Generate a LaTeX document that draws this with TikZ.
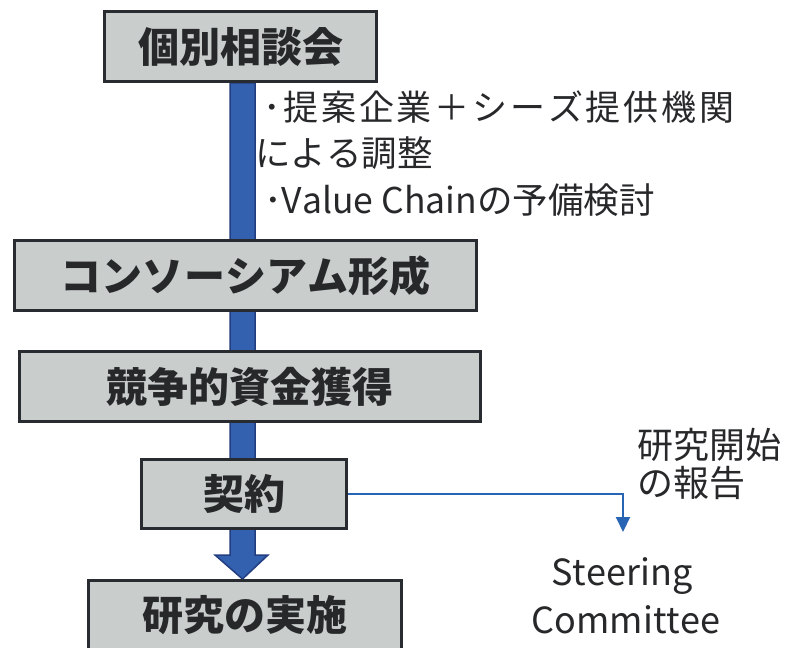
\documentclass[tikz,border=0pt]{standalone}
\usepackage{fontspec}
\setmainfont{Noto Sans CJK JP}[Kerning=Off]
\newfontfamily\bulfont{Noto Sans CJK JP}[Kerning=Off, LetterSpace=8]
\usetikzlibrary{arrows.meta,calc}
\definecolor{boxfill}{RGB}{201,205,204}
\definecolor{boxline}{RGB}{40,44,48}
\definecolor{textc}{RGB}{38,40,42}
\definecolor{barblue}{RGB}{52,96,176}
\definecolor{bardark}{RGB}{34,62,128}
\definecolor{lineblue}{RGB}{40,100,180}
\begin{document}
\begin{tikzpicture}[x=1bp,y=-1bp,
  box/.style={draw=boxline, line width=3bp, fill=boxfill, inner sep=0pt,
    text=textc, font=\fontsize{41bp}{41bp}\selectfont\bfseries},
  bul/.style={inner sep=0pt, text=textc, font=\bulfont\fontsize{35bp}{35bp}\selectfont},
  bultwo/.style={inner sep=0pt, text=textc, font=\fontsize{35.5bp}{35.5bp}\selectfont},
  note/.style={inner sep=0pt, text=textc, font=\fontsize{36bp}{36bp}\selectfont},
  sc/.style={inner sep=0pt, text=textc, font=\fontsize{36bp}{36bp}\selectfont},
  link/.style={draw=lineblue, line width=2bp, -{Triangle[width=14bp,length=15bp]}}]
\useasboundingbox (0,0) rectangle (787,648);
\clip (0,0) rectangle (787,648);
\fill[white] (0,0) rectangle (787,648);
% boxes (first pass, to name them)
\node[box, minimum width=272bp, minimum height=70bp] (b1) at (240.5,46.5) {個別相談会};
\node[box, minimum width=462bp, minimum height=70bp] (b2) at (245.5,275.5) {コンソーシアム形成};
\node[box, minimum width=461bp, minimum height=70bp] (b3) at (250,386.5) {競争的資金獲得};
\node[box, minimum width=205bp, minimum height=69bp] (b4) at (244,494) {契約};
\node[box, minimum width=313bp, minimum height=70bp] (b5) at (245,615.5) {研究の実施};
% big blue arrow
\coordinate (bl) at (230,0);
\coordinate (br) at (255,0);
\coordinate (hl) at (215,0);
\coordinate (hr) at (268,0);
\coordinate (hc) at (242.5,0);
\coordinate (hy) at (0,555);
\fill[barblue, draw=bardark, line width=1.5bp]
  (b1.south -| bl) -- (hy -| bl) -- (hy -| hl) -- (b5.north -| hc)
  -- (hy -| hr) -- (hy -| br) -- (b1.south -| br) -- cycle;
% boxes again on top of the bar
\node[box, minimum width=272bp, minimum height=70bp] at (b1) {個別相談会};
\node[box, minimum width=462bp, minimum height=70bp] at (b2) {コンソーシアム形成};
\node[box, minimum width=461bp, minimum height=70bp] at (b3) {競争的資金獲得};
\node[box, minimum width=205bp, minimum height=69bp] at (b4) {契約};
\node[box, minimum width=313bp, minimum height=70bp] at (b5) {研究の実施};
% bullet texts
\node[bul, anchor=base west] (t1) at (263,121) {･提案企業＋シーズ提供機関};
\node[bultwo, anchor=base west] (t2) at (255,167) {による調整};
\node[bultwo, anchor=base west] (t3) at (264,214) {･Value Chainの予備検討};
% report
\node[note, anchor=base west] (r1) at (637,458) {研究開始};
\node[note, anchor=base west] (r2) at (637,496) {の報告};
\node[sc, anchor=base] (s1) at (622,585) {Steering};
\node[sc, anchor=base] (s2) at (626,633) {Committee};
\coordinate (tip) at (623,532);
\draw[link] (b4.east) -| (tip);
\end{tikzpicture}
\end{document}
